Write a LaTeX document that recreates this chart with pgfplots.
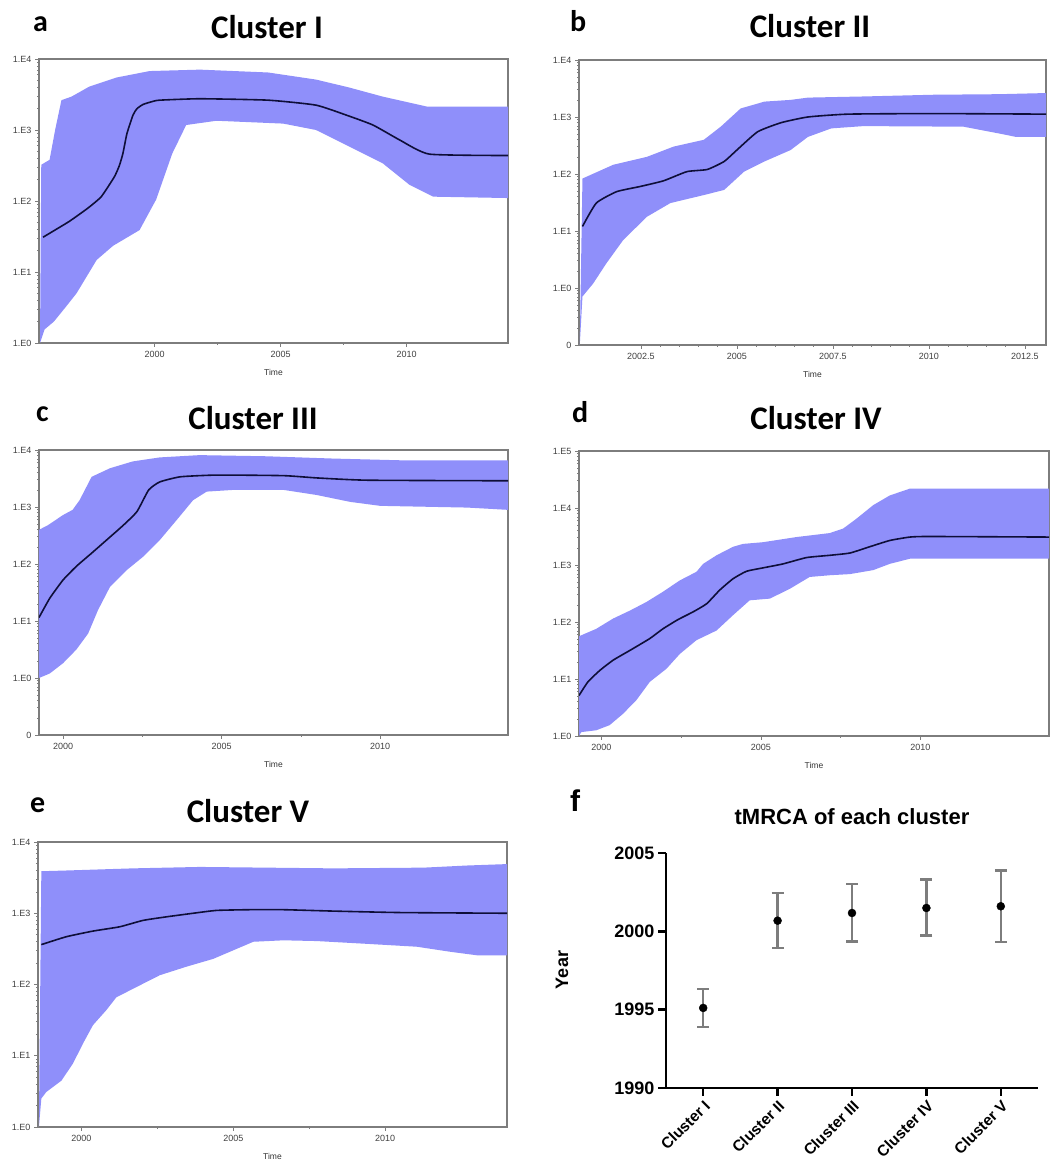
\documentclass[border=0pt]{standalone}
\usepackage{fontspec}
\setmainfont{Liberation Sans}
\newfontfamily\calib{Carlito}
\usepackage{pgfplots}
\pgfplotsset{compat=1.18}

\definecolor{band}{RGB}{143,143,250}
\definecolor{med}{RGB}{14,14,56}
\definecolor{framegray}{RGB}{125,125,125}
\definecolor{ebar}{RGB}{125,125,125}

\pgfplotsset{
  trc/.style={
    scale only axis, anchor=south west,
    axis line style={framegray, line width=1.1pt},
    tick style={framegray, line width=0.6pt},
    tick align=outside, tick pos=left,
    major tick length=4pt, minor tick length=2pt,
    ticklabel style={font=\fontsize{9}{10}\selectfont, text=black!75},
    /pgf/number format/assume math mode=true,
    /pgf/number format/1000 sep={},
    xtick={2000,2005,2010}, minor x tick num=1,
    xticklabel style={yshift=-1pt},
    xlabel={Time},
    xlabel style={font=\fontsize{8.5}{10}\selectfont, text=black!80,
      at={(axis description cs:0.5,0)}, anchor=center, yshift=-29pt},
  },
  median/.style={med, line width=1.6pt, smooth, tension=0.3},
  bandfill/.style={fill=band, draw=none},
}

\newcommand{\ttl}[1]{\calib\bfseries\fontsize{33}{36}\selectfont #1}
\newcommand{\lett}[1]{\calib\bfseries\fontsize{30}{32}\selectfont #1}

\begin{document}
\begin{tikzpicture}
\path[use as bounding box] (0,0) rectangle (1064pt,1164pt);

% ---------------- a: Cluster I
\node[anchor=base west, inner sep=0] at (33pt,1132pt) {\lett{a}};
\node[anchor=base, inner sep=0] at (267pt,1125pt) {\ttl{Cluster I}};
\begin{axis}[trc, ymode=log, at={(39pt,821pt)}, width=469pt, height=284pt,
  xmin=1995.41, xmax=2014.02, ymin=1, ymax=10000,
  ytick={1,10,100,1000,10000}, yticklabels={1.E0,1.E1,1.E2,1.E3,1.E4}]
% 95% HPD band: upper bound, then lower bound backwards
\addplot[bandfill] coordinates {
  (1995.50,324) (1995.83,380) (1996.05,1000) (1996.3,2630) (1996.7,2951)
  (1997.4,4074) (1998.5,5495) (1999.8,6761) (2001.8,7079) (2004.5,6457)
  (2006.4,5129) (2007.7,3981) (2009.05,2951) (2010.8,2138) (2014.02,2138)
  (2014.02,110) (2011.05,115) (2010.1,170) (2009.05,339) (2007.7,589)
  (2006.4,1000) (2005.1,1230) (2002.45,1349) (2001.25,1175) (2000.7,468)
  (2000.06,105) (1999.4,38.9) (1998.35,23.4) (1997.7,14.8) (1996.9,5.01)
  (1996.5,3.31) (1996.0,2.0) (1995.63,1.55) (1995.45,1)} -- cycle;
\addplot[median] coordinates {
  (1995.57,30.9) (1996.6,51.3) (1997.35,79.4) (1997.88,115) (1998.4,219)
  (1998.6,316) (1998.74,468) (1998.9,891) (1999.14,1622) (1999.3,2000)
  (1999.54,2291) (1999.9,2512) (2000.2,2630) (2001.8,2754) (2004.5,2630)
  (2006.4,2239) (2007.6,1622) (2008.66,1175) (2009.72,724) (2010.9,457)
  (2014.02,437)};
\end{axis}

% ---------------- b: Cluster II
\node[anchor=base west, inner sep=0] at (570pt,1132pt) {\lett{b}};
\node[anchor=base, inner sep=0] at (810pt,1126pt) {\ttl{Cluster II}};
\begin{axis}[trc, ymode=log, at={(579pt,819pt)}, width=467pt, height=285pt,
  xmin=2000.89, xmax=2013.05, ymin=0.1, ymax=10000,
  xtick={2002.5,2005,2007.5,2010,2012.5}, minor x tick num=4,
  ytick={0.1,1,10,100,1000,10000}, yticklabels={0,1.E0,1.E1,1.E2,1.E3,1.E4}]
\addplot[bandfill] coordinates {
  (2000.98,83.2) (2001.78,145) (2002.66,200) (2003.35,302) (2004.14,398)
  (2004.58,676) (2005.1,1413) (2005.72,1862) (2006.4,1995) (2006.85,2188)
  (2008.3,2291) (2010.1,2455) (2011.83,2512) (2013.05,2630)
  (2013.05,447) (2012.27,447) (2011.83,513) (2010.9,676) (2008.3,692)
  (2007.46,631) (2006.85,447) (2006.4,263) (2005.72,166) (2005.19,110)
  (2004.67,52.5) (2004.14,42.7) (2003.27,30.9) (2002.66,17.8) (2002.04,6.92)
  (2001.6,2.69) (2001.26,1.20) (2000.98,0.708) (2000.91,0.1)} -- cycle;
\addplot[median] coordinates {
  (2000.98,12.0) (2001.34,30.9) (2001.87,49.0) (2002.48,60.3) (2003.09,75.9)
  (2003.7,110) (2004.23,120) (2004.67,166) (2005.0,263) (2005.54,550)
  (2006.15,794) (2006.85,1000) (2007.9,1122) (2010.1,1148) (2013.05,1122)};
\end{axis}

% ---------------- c: Cluster III
\node[anchor=base west, inner sep=0] at (36pt,742pt) {\lett{c}};
\node[anchor=base, inner sep=0] at (253pt,734pt) {\ttl{Cluster III}};
\begin{axis}[trc, ymode=log, at={(39pt,429pt)}, width=469pt, height=285pt,
  xmin=1999.24, xmax=2014.03, ymin=0.1, ymax=10000,
  ytick={0.1,1,10,100,1000,10000}, yticklabels={0,1.E0,1.E1,1.E2,1.E3,1.E4}]
\addplot[bandfill] coordinates {
  (1999.24,398) (1999.52,479) (2000.0,724) (2000.3,891) (2000.52,1318)
  (2000.9,3388) (2001.48,4786) (2002.2,6310) (2003.05,7413) (2004.3,8128)
  (2006.4,7762) (2008.5,7079) (2010.6,6607) (2014.03,6607)
  (2014.03,891) (2012.74,977) (2010.0,1047) (2009.05,1230) (2008.0,1622)
  (2006.95,1995) (2005.37,1995) (2004.53,1862) (2004.1,1318) (2003.58,589)
  (2003.05,263) (2002.53,135) (2002.0,77.6) (2001.48,39.8) (2001.1,15.5)
  (2000.79,6.03) (2000.42,3.16) (2000.0,1.82) (1999.58,1.20) (1999.24,1.0)} -- cycle;
\addplot[median] coordinates {
  (1999.24,11.5) (1999.58,25.1) (2000.0,52.5) (2000.42,91.2) (2000.9,155)
  (2001.37,263) (2001.9,479) (2002.33,832) (2002.7,1995) (2003.05,2754)
  (2003.7,3388) (2004.84,3631) (2006.95,3548) (2008.0,3236) (2009.6,2951)
  (2014.03,2884)};
\end{axis}

% ---------------- d: Cluster IV
\node[anchor=base west, inner sep=0] at (572pt,741pt) {\lett{d}};
\node[anchor=base, inner sep=0] at (816pt,734pt) {\ttl{Cluster IV}};
\begin{axis}[trc, ymode=log, at={(579pt,428pt)}, width=470pt, height=285pt,
  xmin=1999.30, xmax=2014.03, ymin=1, ymax=100000,
  ytick={1,10,100,1000,10000,100000},
  yticklabels={1.E0,1.E1,1.E2,1.E3,1.E4,1.E5}]
\addplot[bandfill] coordinates {
  (1999.3,56.2) (1999.84,75.9) (2000.37,115) (2000.89,158) (2001.41,224)
  (2001.93,339) (2002.46,537) (2002.98,759) (2003.19,1047) (2003.61,1479)
  (2004.13,2089) (2004.44,2344) (2005.07,2512) (2006.11,3090) (2007.16,3631)
  (2007.58,4365) (2007.99,6457) (2008.52,11220) (2009.04,16600)
  (2009.67,21880) (2014.03,21880)
  (2014.03,1288) (2009.67,1288) (2009.04,1047) (2008.52,813) (2007.79,692)
  (2007.16,661) (2006.53,617) (2005.9,380) (2005.28,257) (2004.65,240)
  (2004.13,132) (2003.61,70.8) (2002.98,47.9) (2002.46,27.5) (2002.04,15.1)
  (2001.52,8.91) (2001.1,4.27) (2000.68,2.45) (2000.26,1.55) (1999.84,1.26)
  (1999.37,1.17) (1999.3,1)} -- cycle;
\addplot[median] coordinates {
  (1999.3,5.13) (1999.58,8.91) (1999.95,14.1) (2000.37,21.4) (2000.89,31.6)
  (2001.52,51.3) (2001.93,75.9) (2002.4,110) (2002.88,151) (2003.3,209)
  (2003.71,363) (2004.13,575) (2004.55,776) (2005.07,891) (2005.7,1047)
  (2006.43,1349) (2007.16,1479) (2007.79,1622) (2008.41,2089) (2009.04,2692)
  (2009.67,3090) (2010.3,3162) (2014.03,3090)};
\end{axis}

% ---------------- e: Cluster V
\node[anchor=base west, inner sep=0] at (30pt,351pt) {\lett{e}};
\node[anchor=base, inner sep=0] at (248pt,341pt) {\ttl{Cluster V}};
\begin{axis}[trc, ymode=log, at={(38pt,37pt)}, width=469pt, height=285pt,
  xmin=1998.57, xmax=2014.01, ymin=1, ymax=10000,
  ytick={1,10,100,1000,10000}, yticklabels={1.E0,1.E1,1.E2,1.E3,1.E4}]
\addplot[bandfill] coordinates {
  (1998.68,3890) (1999.5,3981) (2001.7,4266) (2003.9,4467) (2006.1,4365)
  (2008.3,4266) (2011.26,4365) (2012.69,4677) (2014.01,4898)
  (2014.01,257) (2013.02,257) (2012.14,288) (2011.04,339) (2009.4,372)
  (2007.75,407) (2006.65,417) (2005.66,398) (2005.0,302) (2004.34,229)
  (2003.46,178) (2002.58,135) (2001.7,87.1) (2001.15,66.1) (2000.82,43.7)
  (2000.38,26.9) (2000.05,14.8) (1999.72,7.76) (1999.34,4.47) (1998.84,3.09)
  (1998.68,2.51) (1998.6,1)} -- cycle;
\addplot[median] coordinates {
  (1998.68,363) (1999.5,468) (2000.38,562) (2001.26,646) (2002.03,794)
  (2002.8,891) (2003.68,1000) (2004.45,1096) (2005.55,1122) (2006.65,1122)
  (2008.3,1072) (2010.49,1023) (2014.01,1000)};
\end{axis}

% ---------------- f: tMRCA
\node[anchor=base west, inner sep=0] at (570pt,352pt) {\bfseries\fontsize{30}{32}\selectfont f};
\node[anchor=base, inner sep=0] at (852pt,339pt) {\bfseries\fontsize{22}{24}\selectfont tMRCA of each cluster};
\node[rotate=90, inner sep=0] at (562pt,194pt) {\bfseries\fontsize{18}{20}\selectfont Year};
\begin{axis}[at={(666pt,76pt)}, anchor=south west, scale only axis,
  width=372pt, height=235pt,
  xmin=-0.5, xmax=4.5, ymin=1990, ymax=2005,
  axis lines=left, axis line style={-, line width=2.4pt},
  ytick={1990,1995,2000,2005}, xtick={0,1,2,3,4},
  xticklabels={Cluster I,Cluster II,Cluster III,Cluster IV,Cluster V},
  tick style={black, line width=2.4pt}, tick align=outside,
  major tick length=8pt,
  /pgf/number format/assume math mode=true,
  /pgf/number format/1000 sep={},
  yticklabel style={font=\bfseries\fontsize{18}{20}\selectfont},
  xticklabel style={font=\bfseries\fontsize{15.5}{17}\selectfont,
    rotate=45, anchor=north east, inner sep=2pt},
  clip=false]
\addplot[only marks, mark=*, mark size=4pt, black,
  error bars/.cd, y dir=both, y explicit,
  error bar style={ebar, line width=2.4pt},
  error mark options={ebar, line width=2.4pt, mark size=6pt, rotate=90}]
  coordinates {
  (0,1995.11) += (0,1.21) -= (0,1.21)
  (1,2000.68) += (0,1.77) -= (0,1.74)
  (2,2001.17) += (0,1.85) -= (0,1.81)
  (3,2001.49) += (0,1.81) -= (0,1.75)
  (4,2001.60) += (0,2.29) -= (0,2.28)};
\end{axis}
\end{tikzpicture}
\end{document}
